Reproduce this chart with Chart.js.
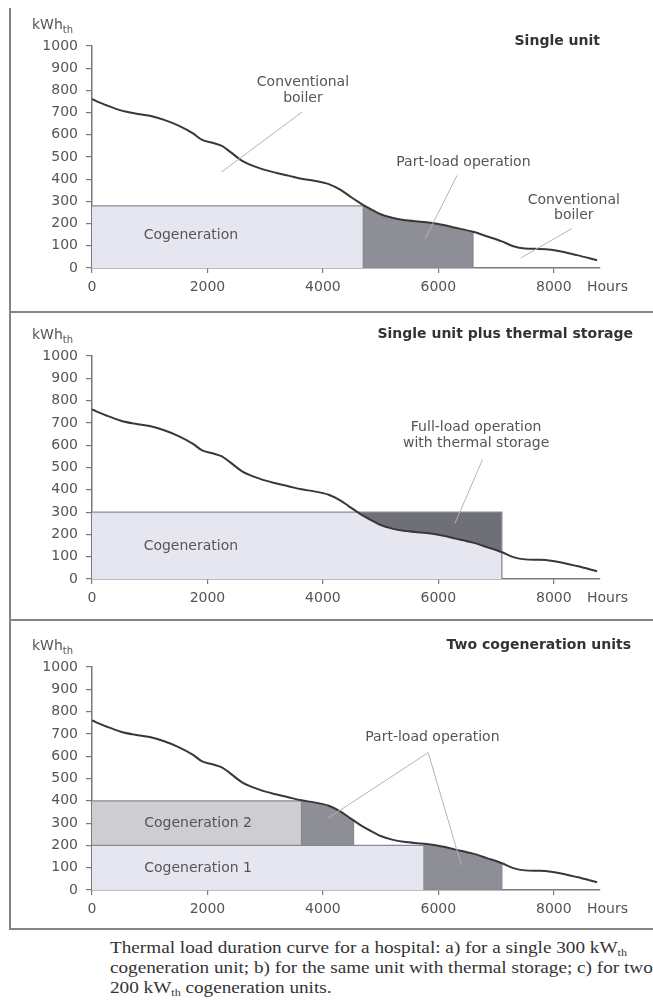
<!DOCTYPE html>
<html>
<head>
<meta charset="UTF-8">
<title>Thermal load duration curve</title>
<script src="https://cdn.jsdelivr.net/npm/chart.js@4.4.1/dist/chart.umd.min.js"></script>
<style>
    body { margin: 0; background: #fff; width: 653px; height: 1000px; position: relative; overflow: hidden; }
    canvas { position: absolute; left: 10px; }
    .rule { position: absolute; background: #858585; }
    .caption { position: absolute; left: 110px; top: 938px; font-family: "Liberation Serif", serif; font-size: 16px;
               line-height: 20px; color: #333; white-space: nowrap; transform: scaleX(1.2); transform-origin: left top; }
    .caption sub { font-size: 10px; line-height: 0; vertical-align: -3px; }
</style>
</head>
<body>
    <div class="rule" style="left:9px; top:8px; width:1.5px; height:922px;"></div>
    <div class="rule" style="left:9px; top:311px; width:644px; height:1.5px;"></div>
    <div class="rule" style="left:9px; top:619px; width:644px; height:1.5px;"></div>
    <div class="rule" style="left:9px; top:928px; width:644px; height:1.5px;"></div>

    <canvas id="chartA" width="643" height="311" style="top:0px"></canvas>
    <canvas id="chartB" width="643" height="306" style="top:313px"></canvas>
    <canvas id="chartC" width="643" height="307" style="top:621px"></canvas>

    <div class="caption">
        Thermal load duration curve for a hospital: a) for a single 300 kW<sub>th</sub><br>
        cogeneration unit; b) for the same unit with thermal storage; c) for two<br>
        200 kW<sub>th</sub> cogeneration units.
    </div>

    <script>
        // load duration curve (same in all three panels)
        const hours = [0, 250, 500, 750, 1000, 1250, 1500, 1750, 1900, 2100, 2250, 2400, 2600, 2900, 3200,
                       3400, 3630, 3850, 4100, 4300, 4450, 4530, 4600, 4700, 4850, 5000, 5200, 5400, 5750, 6000,
                       6300, 6600, 6850, 7100, 7300, 7500, 7750, 7950, 8150, 8400, 8750];
        const load = [760, 733, 710, 696, 686, 667, 641, 606, 578, 563, 550, 522, 483, 450, 428,
                      416, 402, 393, 378, 353, 326, 312, 300, 283, 262, 242, 226, 216, 207, 198,
                      181, 163, 142, 120, 98, 88, 86, 82, 73, 58, 35];
        const xTicks = [0, 2000, 4000, 6000, 8000];
        const yTicks = [0, 100, 200, 300, 400, 500, 600, 700, 800, 900, 1000];

        // a) single unit
        const aLevel = 280, aFullEnd = 4700, aPartEnd = 6600;
        // b) single unit plus thermal storage
        const bLevel = 300, bStoreStart = 4600, bEnd = 7100;
        // c) two units
        const c1Level = 200, c1FullEnd = 5750, c1PartEnd = 7100;
        const c2Top = 400, c2FullEnd = 3630, c2PartEnd = 4530;

        const curve = hours.map((h, i) => ({ x: h, y: load[i] }));
        const loadAt = h => load[hours.indexOf(h)];

        const FONT = '"DejaVu Sans", sans-serif';
        const LIGHT = '#e5e6f0';
        const MID = '#cdcdd2';
        const DARK = '#8e8e96';
        const EDGE = '#8a8a94';
        const CLEAR = 'rgba(0,0,0,0)';

        function band(from, to, color) {
            return c => (c.p0.parsed.x >= from && c.p1.parsed.x <= to) ? color : CLEAR;
        }

        function curveLine() {
            return { data: curve, borderColor: '#383838', borderWidth: 2, pointRadius: 0,
                     cubicInterpolationMode: 'monotone', fill: false };
        }
        function curveFill(target, from, to, color) {
            return { data: curve, borderWidth: 0, borderColor: CLEAR, pointRadius: 0,
                     cubicInterpolationMode: 'monotone', fill: target,
                     segment: { backgroundColor: band(from, to, color) } };
        }
        function outline(pts) {
            return { data: pts.map(p => ({ x: p[0], y: p[1] })), borderColor: EDGE, borderWidth: 1.3,
                     pointRadius: 0, tension: 0, fill: false };
        }
        function block(pts, target, color) {
            return { data: pts.map(p => ({ x: p[0], y: p[1] })), borderWidth: 0, borderColor: CLEAR,
                     pointRadius: 0, tension: 0, fill: target, backgroundColor: color };
        }

        const notes = {
            id: 'notes',
            afterDraw(chart, args, o) {
                const { ctx, chartArea: a } = chart;
                const xs = chart.scales.x, ys = chart.scales.y;
                ctx.save();
                ctx.strokeStyle = '#b4b4b4';
                ctx.lineWidth = 1;
                o.leaders.forEach(l => {
                    ctx.beginPath();
                    ctx.moveTo(xs.getPixelForValue(l[0]), ys.getPixelForValue(l[1]));
                    ctx.lineTo(xs.getPixelForValue(l[2]), ys.getPixelForValue(l[3]));
                    ctx.stroke();
                });
                ctx.fillStyle = '#555';
                ctx.font = '14px ' + FONT;
                ctx.textAlign = 'center';
                ctx.textBaseline = 'middle';
                o.labels.forEach(l => {
                    l.lines.forEach((t, i) => ctx.fillText(t, xs.getPixelForValue(l.x), ys.getPixelForValue(l.y[i])));
                });
                // panel title
                ctx.font = 'bold 14px ' + FONT;
                ctx.fillStyle = '#333';
                ctx.textAlign = 'right';
                ctx.fillText(o.title, o.titleRight, a.top + o.titleDy);
                // axis names
                ctx.fillStyle = '#555';
                ctx.font = '14px ' + FONT;
                ctx.textAlign = 'left';
                ctx.fillText('Hours', a.right - 13, a.bottom + 19);
                ctx.fillText('kWh', 22, a.top - 21);
                const w = ctx.measureText('kWh').width;
                ctx.font = '10px ' + FONT;
                ctx.fillText('th', 22 + w, a.top - 16);
                ctx.restore();
            }
        };

        function makeChart(id, datasets, padTop, xHeight, note) {
            const tickFont = { family: FONT, size: 14 };
            return new Chart(document.getElementById(id), {
                type: 'line',
                data: { datasets: datasets },
                options: {
                    responsive: false,
                    animation: false,
                    events: [],
                    layout: { padding: { top: padTop, right: 53, left: 0, bottom: 0 } },
                    plugins: { legend: { display: false }, tooltip: { enabled: false }, notes: note },
                    scales: {
                        x: {
                            type: 'linear', min: 0, max: 8800,
                            afterBuildTicks: s => { s.ticks = xTicks.map(v => ({ value: v })); },
                            afterFit: s => { s.height = xHeight; },
                            grid: { drawOnChartArea: false, tickLength: 5, color: '#7a7a7a', lineWidth: 1.2 },
                            border: { color: '#7a7a7a', width: 1.5 },
                            ticks: { color: '#555', font: tickFont, padding: 6, maxRotation: 0, autoSkip: false,
                                     callback: v => String(v) }
                        },
                        y: {
                            min: 0, max: 1000,
                            afterBuildTicks: s => { s.ticks = yTicks.map(v => ({ value: v })); },
                            afterFit: s => { s.width = 82; },
                            grid: { drawOnChartArea: false, tickLength: 6, color: '#7a7a7a', lineWidth: 1.2 },
                            border: { color: '#7a7a7a', width: 1.5 },
                            ticks: { color: '#555', font: tickFont, padding: 8, autoSkip: false,
                                     callback: v => String(v) }
                        }
                    }
                },
                plugins: [notes]
            });
        }

        // a) Single unit
        makeChart('chartA', [
            curveLine(),
            outline([[0, aLevel], [aFullEnd, aLevel], [aFullEnd, 0], [aPartEnd, 0], [aPartEnd, loadAt(aPartEnd)]]),
            curveFill('origin', aFullEnd, aPartEnd, DARK),
            block([[0, aLevel], [aFullEnd, aLevel]], 'origin', LIGHT)
        ], 46, 43, {
            title: 'Single unit', titleRight: 590, titleDy: -5,
            labels: [
                { lines: ['Conventional', 'boiler'], x: 3654, y: [834, 762] },
                { lines: ['Part-load operation'], x: 6434, y: [477] },
                { lines: ['Conventional', 'boiler'], x: 8346, y: [305, 237] },
                { lines: ['Cogeneration'], x: 1713, y: [147] }
            ],
            leaders: [[3640, 703, 2243, 432], [6324, 417, 5772, 132], [8309, 177, 7427, 45]]
        });

        // b) Single unit plus thermal storage
        makeChart('chartB', [
            curveLine(),
            outline([[0, bLevel], [bEnd, bLevel], [bEnd, 0]]),
            curveFill({ value: bLevel }, bStoreStart, bEnd, '#6f6f77'),
            block([[0, bLevel], [bEnd, bLevel]], 'origin', LIGHT)
        ], 43, 40, {
            title: 'Single unit plus thermal storage', titleRight: 623, titleDy: -22,
            labels: [
                { lines: ['Full-load operation', 'with thermal storage'], x: 6654, y: [680, 608] },
                { lines: ['Cogeneration'], x: 1713, y: [148] }
            ],
            leaders: [[6765, 536, 6287, 249]]
        });

        // c) Two cogeneration units
        makeChart('chartC', [
            curveLine(),
            outline([[0, c2Top], [c2FullEnd, c2Top], [c2FullEnd, c1Level], [c2PartEnd, c1Level], [c2PartEnd, loadAt(c2PartEnd)]]),
            outline([[0, c1Level], [c1FullEnd, c1Level], [c1FullEnd, 0], [c1PartEnd, 0], [c1PartEnd, loadAt(c1PartEnd)]]),
            curveFill({ value: c1Level }, c2FullEnd, c2PartEnd, DARK),
            curveFill('origin', c1FullEnd, c1PartEnd, DARK),
            block([[0, c2Top], [c2FullEnd, c2Top]], { value: c1Level }, MID),
            block([[0, c1Level], [c1FullEnd, c1Level]], 'origin', LIGHT)
        ], 46, 38, {
            title: 'Two cogeneration units', titleRight: 621, titleDy: -22,
            labels: [
                { lines: ['Part-load operation'], x: 5897, y: [684] },
                { lines: ['Cogeneration 2'], x: 1838, y: [299] },
                { lines: ['Cogeneration 1'], x: 1838, y: [97] }
            ],
            leaders: [[5824, 616, 4081, 321], [5824, 616, 6397, 112]]
        });
    </script>
</body>
</html>
